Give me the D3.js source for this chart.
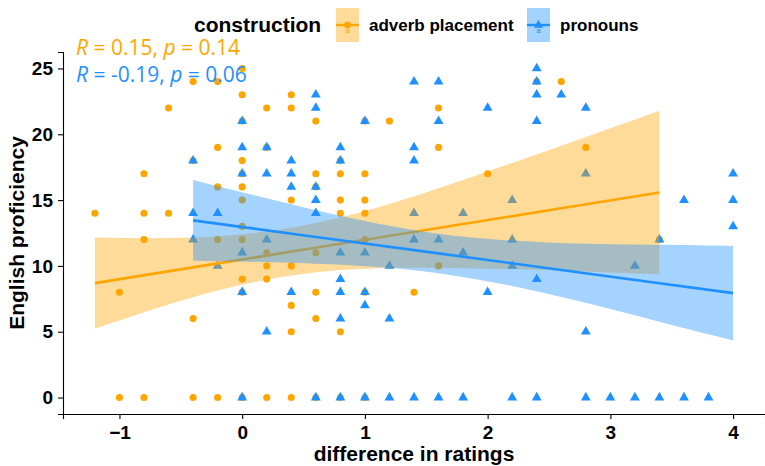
<!DOCTYPE html>
<html>
<head>
<meta charset="utf-8">
<script src="https://cdn.jsdelivr.net/npm/d3@7"></script>
<style>
  body { margin: 0; background: #fff; }
  text { font-family: "Liberation Sans Narrow", "Liberation Sans", Arial, sans-serif; }
  .tick text { font-weight: bold; font-size: 19px; fill: #000; }
  .axis-title { font-weight: bold; font-size: 21px; }
  .legend-title { font-weight: bold; font-size: 21px; }
  .legend-label { font-weight: bold; font-size: 17px; }
  .cor { font-family: "Open Sans", "Noto Sans", sans-serif; font-size: 21px; }
</style>
</head>
<body>
<svg id="chart" width="765" height="466"></svg>
<script>
// adverb placement (orange circles)
const adverbX = [0, -0.4, -0.2, 0, -0.6, 0, -0.2, -0.4, 0, -0.8, 0, -0.2, 0, 0, -1.2, -0.8, -0.6, 0,
  0.4, 0.2, 0.4, 1.6, 0.6, 1.0, 1.2, 0.2, 1.6, 0.8, 0.6, 0.8, 1.0, 0.6, 0.4, 0.8, 1.0, 0.8, 1.0,
  2.4, 2.6, 2.8, 2.0,
  -0.8, -0.2, 0, 0, -1.0, 0, -0.4,
  0.2, 0.6, 1.0, 1.6, 0.2, 0.4, 0.2, 0.6, 1.0, 1.4, 0.4, 0.6, 0.4, 0.8,
  3.4,
  -1.0, -0.8, -0.4, -0.2, 0, 0.2, 0.4, 0.6, 0.8, 1.0];
const adverbY = [25, 24, 24, 23, 22, 21, 19, 18, 18, 17, 17, 16, 16, 15, 14, 14, 14, 13,
  23, 22, 22, 22, 21, 21, 21, 19, 19, 18, 17, 17, 17, 16, 15, 15, 15, 14, 14,
  24, 24, 19, 17,
  12, 12, 12, 9, 8, 8, 6,
  11, 11, 12, 10, 10, 10, 9, 8, 8, 8, 7, 6, 5, 5,
  12,
  0, 0, 0, 0, 0, 0, 0, 0, 0, 0];

// pronouns (blue triangles)
const pronounX = [0, 0, -0.4, 0, -0.4, -0.2,
  1.4, 1.6, 0.6, 0.6, 1.0, 1.6, 0.2, 0.8, 1.4, 0.4, 0.8, 1.4, 0.2, 0.4, 0.4, 0.6, 0.6, 0.6, 1.4,
  2.4, 2.4, 2.4, 2.6, 2.0, 2.8, 2.4, 2.8, 2.2, 1.8,
  4.0, 3.6, 4.0, 4.0,
  -0.4, 0, -0.2, 0,
  0.2, 0.8, 1.0, 1.4, 1.6, 1.2, 0.8, 0.4, 0.8, 1.0, 1.0, 0.8, 1.2, 0.2,
  2.2, 1.8, 2.2, 2.4, 2.0, 2.8,
  3.4, 3.2,
  0, 0.6, 0.8, 1.0, 1.2, 1.4, 1.6, 1.8, 2.2, 2.4, 2.8, 3.0, 3.2, 3.4, 3.6, 3.8];
const pronounY = [21, 19, 18, 17, 14, 14,
  24, 24, 23, 22, 21, 21, 19, 19, 19, 18, 18, 18, 17, 17, 16, 16, 15, 14, 14,
  25, 24, 23, 23, 22, 22, 21, 17, 15, 14,
  17, 15, 15, 13,
  12, 11, 10, 8,
  12, 11, 11, 12, 12, 10, 9, 8, 8, 8, 7, 6, 6, 5,
  12, 11, 10, 9, 8, 5,
  12, 10,
  0, 0, 0, 0, 0, 0, 0, 0, 0, 0, 0, 0, 0, 0, 0, 0];

// regression lines and 95% bands
const adverbFitX  = [-1.2, -0.2, 0.8, 1.8, 2.6, 3.4];
const adverbFitY  = [8.69, 10.19, 11.68, 13.18, 14.38, 15.57];
const adverbFitLo = [5.22, 8.13, 9.68, 9.83, 9.64, 9.36];
const adverbFitHi = [12.16, 12.25, 13.68, 16.53, 19.12, 21.78];

const pronounFitX  = [-0.4, 0.6, 1.6, 2.6, 3.4, 4.0];
const pronounFitY  = [13.46, 12.20, 10.95, 9.69, 8.68, 7.93];
const pronounFitLo = [10.40, 10.17, 9.45, 7.64, 5.76, 4.34];
const pronounFitHi = [16.52, 14.23, 12.45, 11.74, 11.60, 11.52];

const groups = ['adverb placement', 'pronouns'];
const colors = ['#FFA500', '#1E90FF'];
const corLabels = ['0.15', '0.14', '-0.19', '0.06'];  // R, p for each group
const xTicks = [-1, 0, 1, 2, 3, 4];
const yTicks = [0, 5, 10, 15, 20, 25];

const margin = {top: 52, right: 0, bottom: 52, left: 63};
const W = 765, H = 466;
const w = W - margin.left - margin.right, h = H - margin.top - margin.bottom;

const x = d3.scaleLinear().domain([-1.46, 4.26]).range([0, w]);
const y = d3.scaleLinear().domain([-1.25, 26.25]).range([h, 0]);

const svg = d3.select('#chart');
const g = svg.append('g').attr('transform', `translate(${margin.left},${margin.top})`);

const series = [
  {name: groups[0], color: colors[0], shape: d3.symbolCircle,
   pts: adverbX.map((v, i) => [v, adverbY[i]]),
   fit: adverbFitX.map((v, i) => ({x: v, y: adverbFitY[i], lo: adverbFitLo[i], hi: adverbFitHi[i]}))},
  {name: groups[1], color: colors[1], shape: d3.symbolTriangle,
   pts: pronounX.map((v, i) => [v, pronounY[i]]),
   fit: pronounFitX.map((v, i) => ({x: v, y: pronounFitY[i], lo: pronounFitLo[i], hi: pronounFitHi[i]}))}
];

// points
series.forEach(s => {
  g.append('g').selectAll('path')
    .data(s.pts)
    .enter().append('path')
    .attr('transform', d => `translate(${x(d[0])},${y(d[1])})`)
    .attr('d', d3.symbol().type(s.shape).size(s.shape === d3.symbolCircle ? 40 : 42))
    .attr('fill', s.color);
});

// bands + lines
const area = d3.area().x(d => x(d.x)).y0(d => y(d.lo)).y1(d => y(d.hi)).curve(d3.curveNatural);
const line = d3.line().x(d => x(d.x)).y(d => y(d.y));

series.forEach(s => {
  g.append('path').datum(s.fit).attr('d', area).attr('fill', s.color).attr('fill-opacity', 0.4);
  g.append('path').datum(s.fit).attr('d', line).attr('fill', 'none')
    .attr('stroke', s.color).attr('stroke-width', 2.6);
});

// axes
const xAxis = g.append('g').attr('transform', `translate(0,${h})`)
  .call(d3.axisBottom(x).tickValues(xTicks).tickSize(5).tickPadding(6).tickFormat(d3.format('d')));
const yAxis = g.append('g')
  .call(d3.axisLeft(y).tickValues(yTicks).tickSize(5).tickPadding(5).tickFormat(d3.format('d')));
[xAxis, yAxis].forEach(a => {
  a.select('.domain').attr('stroke', '#000').attr('stroke-width', 1.1);
  a.selectAll('.tick line').attr('stroke', '#000').attr('stroke-width', 1.1);
});
xAxis.selectAll('.tick text').attr('dy', '0.75em');

svg.append('text').attr('class', 'axis-title')
  .attr('x', margin.left + w / 2).attr('y', 461).attr('text-anchor', 'middle')
  .text('difference in ratings');
svg.append('text').attr('class', 'axis-title')
  .attr('transform', `translate(24,${margin.top + h / 2}) rotate(-90)`)
  .attr('text-anchor', 'middle')
  .text('English proficiency');

// correlation labels
[0, 1].forEach(i => {
  const t = svg.append('text').attr('class', 'cor')
    .attr('x', 76).attr('y', i === 0 ? 55 : 82).attr('fill', colors[i]);
  t.append('tspan').attr('font-style', 'italic').text('R');
  t.append('tspan').text(` = ${corLabels[i * 2]}, `);
  t.append('tspan').attr('font-style', 'italic').text('p');
  t.append('tspan').text(` = ${corLabels[i * 2 + 1]}`);
});

// legend
svg.append('text').attr('class', 'legend-title').attr('x', 194).attr('y', 32).text('construction');
const keyX = [336, 527];
series.forEach((s, i) => {
  const k = svg.append('g').attr('transform', `translate(${keyX[i]},8)`);
  k.append('rect').attr('width', 23).attr('height', 34).attr('fill', s.color).attr('fill-opacity', 0.4);
  k.append('line').attr('x1', 0).attr('x2', 23).attr('y1', 17).attr('y2', 17)
    .attr('stroke', s.color).attr('stroke-width', 2.4);
  k.append('path').attr('transform', 'translate(11.5,17)')
    .attr('d', d3.symbol().type(s.shape).size(36)).attr('fill', s.color);
  k.append('text').attr('x', 11.5).attr('y', 25).attr('text-anchor', 'middle')
    .attr('font-size', 8).attr('fill', s.color).text('a');
  svg.append('text').attr('class', 'legend-label')
    .attr('x', keyX[i] + 33).attr('y', 31).text(s.name);
});
</script>
</body>
</html>
